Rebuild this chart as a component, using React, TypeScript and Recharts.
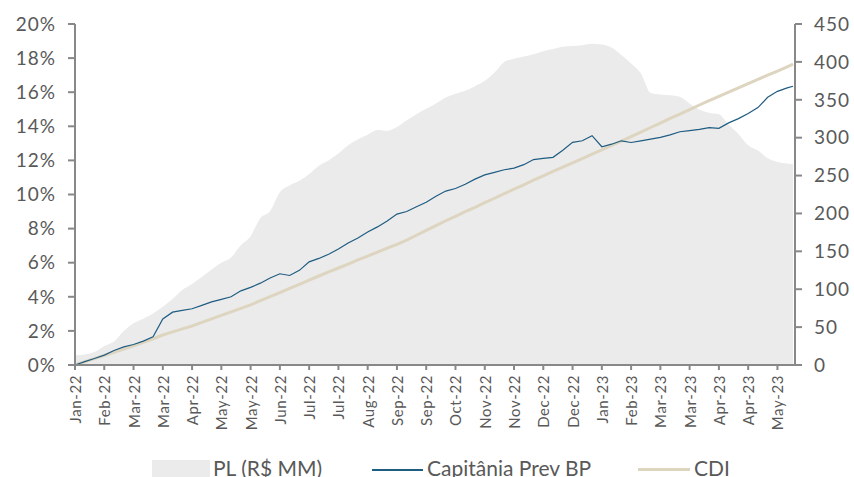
import React from "react";
import {
  ComposedChart,
  Area,
  Line,
  XAxis,
  YAxis,
} from "recharts";

// trading-day index of each sampled point
const dayIndex = [
  0, 5, 10, 15, 20, 25, 30, 35, 40, 45, 50, 55, 60, 65, 70, 75, 80, 85, 90, 95,
  100, 105, 110, 115, 120, 125, 130, 135, 140, 145, 150, 155, 160, 165, 170, 175,
  180, 185, 190, 195, 200, 205, 210, 215, 220, 225, 230, 235, 240, 245, 250, 255,
  260, 265, 270, 275, 280, 285, 290, 295, 300, 305, 310, 315, 320, 325, 330, 335,
  340, 345, 350, 355, 360, 365, 368,
];

// PL (R$ MM), right axis
const plValues = [
  13, 14, 17, 25, 31, 45, 55, 61, 68, 77, 87, 99, 107, 116, 126, 135, 142, 158,
  170, 194, 203, 228, 237, 243, 252, 263, 270, 279, 290, 298, 304, 310, 309, 314,
  323, 331, 338, 345, 353, 358, 362, 368, 375, 386, 400, 404, 407, 410, 414, 417,
  420, 421, 422, 424, 423, 419, 409, 398, 385, 359, 357, 356, 354, 345, 337, 333,
  331, 317, 305, 290, 283, 273, 268, 266, 265,
];

// Capitânia Prev BP, cumulative %
const capValues = [
  0.0, 0.2, 0.38, 0.58, 0.85, 1.06, 1.2, 1.4, 1.65, 2.7, 3.1, 3.2, 3.3, 3.5, 3.7,
  3.85, 4.0, 4.35, 4.55, 4.8, 5.1, 5.35, 5.25, 5.55, 6.05, 6.25, 6.5, 6.8, 7.15,
  7.45, 7.8, 8.1, 8.45, 8.85, 9.0, 9.28, 9.55, 9.9, 10.2, 10.35, 10.6, 10.9,
  11.15, 11.3, 11.45, 11.55, 11.75, 12.05, 12.12, 12.18, 12.6, 13.06, 13.15,
  13.45, 12.8, 12.95, 13.15, 13.05, 13.15, 13.25, 13.35, 13.5, 13.68, 13.75,
  13.82, 13.92, 13.88, 14.2, 14.45, 14.75, 15.1, 15.7, 16.05, 16.25, 16.35,
];

// CDI, cumulative %
const cdiValues = [
  0, 0.19, 0.37, 0.56, 0.75, 0.93, 1.12, 1.33, 1.54, 1.76, 1.94, 2.12, 2.29, 2.5,
  2.71, 2.91, 3.12, 3.32, 3.53, 3.77, 4.01, 4.25, 4.49, 4.73, 4.98, 5.22, 5.46,
  5.69, 5.92, 6.16, 6.39, 6.62, 6.85, 7.08, 7.33, 7.61, 7.9, 8.18, 8.46, 8.72,
  8.99, 9.25, 9.52, 9.78, 10.05, 10.31, 10.57, 10.84, 11.09, 11.35, 11.6, 11.86,
  12.11, 12.37, 12.62, 12.88, 13.13, 13.4, 13.66, 13.93, 14.19, 14.46, 14.72,
  14.98, 15.25, 15.51, 15.76, 16.01, 16.25, 16.5, 16.75, 17.0, 17.24, 17.49, 17.64,
];

const tickLabels = [
  "Jan-22", "Feb-22", "Mar-22", "Mar-22", "Apr-22", "May-22", "May-22", "Jun-22",
  "Jul-22", "Jul-22", "Aug-22", "Sep-22", "Sep-22", "Oct-22", "Nov-22", "Nov-22",
  "Dec-22", "Dec-22", "Jan-23", "Feb-23", "Mar-23", "Mar-23", "Apr-23", "Apr-23",
  "May-23",
];
const tickStep = 15;
const xTicks = tickLabels.map((_, i) => i * tickStep);

const leftTicks = [0, 2, 4, 6, 8, 10, 12, 14, 16, 18, 20];
const rightTicks = [0, 50, 100, 150, 200, 250, 300, 350, 400, 450];

const FONT = "Lato, 'Open Sans', sans-serif";
const TEXT = "#595959";
const AXIS = "#888888";

const chartData = dayIndex.map((d, i) => ({
  idx: d,
  pl: plValues[i],
  cap: capValues[i],
  cdi: cdiValues[i],
}));

const XTick = ({ x, y, payload }: any) => {
  const label = tickLabels[Math.round(payload.value / tickStep)] ?? "";
  return (
    <text
      x={x}
      y={y}
      transform={`rotate(-90, ${x}, ${y})`}
      textAnchor="end"
      dominantBaseline="central"
      fill={TEXT}
      fontSize={15}
      fontFamily={FONT}
      letterSpacing={0.6}
    >
      {label}
    </text>
  );
};

const yTickStyle = { fill: TEXT, fontSize: 19, fontFamily: FONT, letterSpacing: 1 };

const legendText: React.CSSProperties = {
  position: "absolute",
  top: 457,
  fontSize: 21,
  fontFamily: FONT,
  color: TEXT,
  lineHeight: "22px",
  whiteSpace: "nowrap",
};

export default function App() {
  return (
    <div style={{ position: "absolute", left: 0, top: 0, width: 854, height: 477, background: "#fff", overflow: "hidden" }}>
      <ComposedChart
        width={854}
        height={477}
        data={chartData}
        margin={{ top: 24, right: 0, bottom: 0, left: 0 }}
      >
        <XAxis
          dataKey="idx"
          type="number"
          domain={[0, 369]}
          ticks={xTicks}
          interval={0}
          height={112}
          tick={<XTick />}
          tickSize={5}
          tickMargin={5}
          axisLine={{ stroke: AXIS, strokeWidth: 2 }}
          tickLine={{ stroke: AXIS, strokeWidth: 2 }}
        />
        <YAxis
          yAxisId="left"
          orientation="left"
          width={75}
          domain={[0, 20]}
          ticks={leftTicks}
          interval={0}
          tickFormatter={(v: number) => `${v}%`}
          tick={yTickStyle}
          tickSize={7}
          tickMargin={12}
          axisLine={{ stroke: AXIS, strokeWidth: 2 }}
          tickLine={{ stroke: AXIS, strokeWidth: 2 }}
        />
        <YAxis
          yAxisId="right"
          orientation="right"
          width={59}
          domain={[0, 450]}
          ticks={rightTicks}
          interval={0}
          tick={yTickStyle}
          tickSize={7}
          tickMargin={12}
          axisLine={{ stroke: AXIS, strokeWidth: 2 }}
          tickLine={{ stroke: AXIS, strokeWidth: 2 }}
        />
        <Area
          yAxisId="right"
          dataKey="pl"
          type="monotone"
          fill="#EBEBEB"
          fillOpacity={1}
          stroke="none"
          isAnimationActive={false}
        />
        <Line
          yAxisId="left"
          dataKey="cdi"
          type="linear"
          stroke="#DDD5BF"
          strokeWidth={3}
          dot={false}
          isAnimationActive={false}
        />
        <Line
          yAxisId="left"
          dataKey="cap"
          type="linear"
          stroke="#1F5C82"
          strokeWidth={1.2}
          dot={false}
          isAnimationActive={false}
        />
      </ComposedChart>

      <div style={{ position: "absolute", left: 152, top: 460, width: 58, height: 22, background: "#EBEBEB" }} />
      <div style={{ ...legendText, left: 213 }}>PL (R$ MM)</div>
      <div style={{ position: "absolute", left: 372, top: 469, width: 51, height: 1.5, background: "#1F5C82" }} />
      <div style={{ ...legendText, left: 427 }}>Capitânia Prev BP</div>
      <div style={{ position: "absolute", left: 638, top: 468, width: 52, height: 3, background: "#DDD5BF" }} />
      <div style={{ ...legendText, left: 694 }}>CDI</div>
    </div>
  );
}
